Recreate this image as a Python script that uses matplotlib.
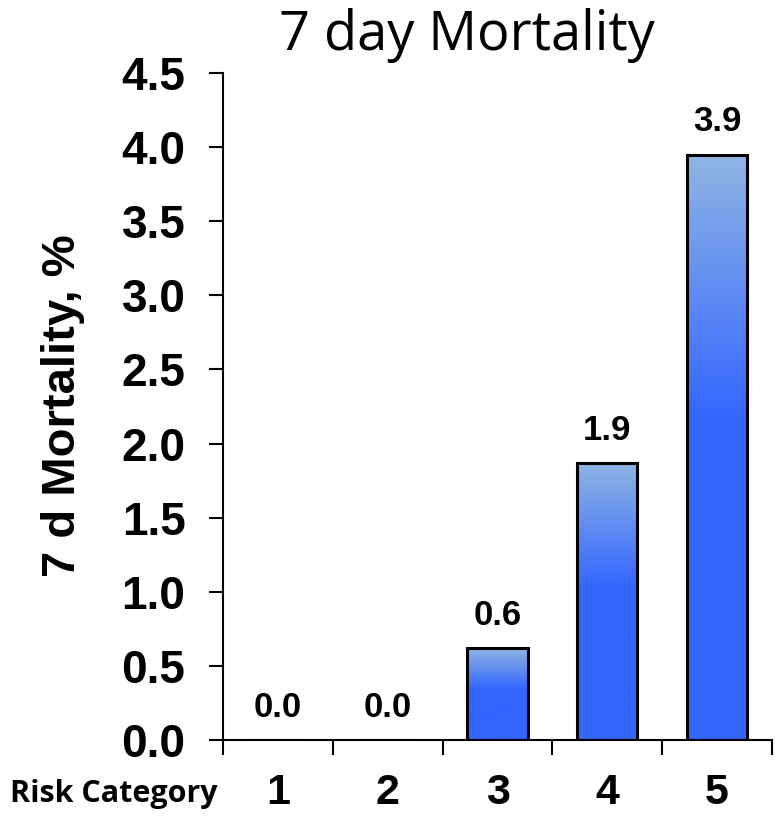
import numpy as np
import matplotlib
matplotlib.use("Agg")
import matplotlib.pyplot as plt
from matplotlib.colors import LinearSegmentedColormap

categories = ["1", "2", "3", "4", "5"]
mortality = [0.0, 0.0, 0.62, 1.87, 3.95]
value_labels = ["0.0", "0.0", "0.6", "1.9", "3.9"]
yticks = [0.0, 0.5, 1.0, 1.5, 2.0, 2.5, 3.0, 3.5, 4.0, 4.5]

fig = plt.figure(figsize=(7.75, 8.17), dpi=100)
ax = fig.add_axes([0.2877, 0.0942, 0.7084, 0.8164])

grad = LinearSegmentedColormap.from_list(
    "bar", [(0, "#3366ff"), (0.55, "#3366ff"), (1, "#90b4e4")])
ramp = np.linspace(0, 1, 256).reshape(-1, 1)

x = np.arange(1, len(categories) + 1)
w = 0.55
bars = ax.bar(x, mortality, width=w, facecolor="none", edgecolor="black",
              linewidth=2.2, zorder=3)
for b, h in zip(bars, mortality):
    if h <= 0:
        continue
    im = ax.imshow(ramp, cmap=grad, origin="lower", aspect="auto",
                   extent=(b.get_x(), b.get_x() + w, 0, h), zorder=2)
    im.set_clip_path(b)

for xi, h, lab in zip(x, mortality, value_labels):
    ax.text(xi, h + 0.11, lab, ha="center", va="bottom", fontsize=25,
            fontweight="bold", family="Liberation Sans")

ax.set_xlim(0.5, 5.5)
ax.set_ylim(0, 4.5)
ax.set_yticks(yticks)
ax.set_yticklabels([f"{v:.1f}" for v in yticks], fontsize=33,
                   fontweight="bold", family="Liberation Sans")
ax.set_xticks(np.arange(0.5, 6, 1.0))
ax.set_xticklabels([])
ax.set_xticks(x, minor=True)
ax.set_xticklabels(categories, minor=True, fontsize=31, fontweight="bold",
                   family="Liberation Sans")
ax.tick_params(axis="x", which="major", direction="out", length=11, width=1.5)
ax.tick_params(axis="x", which="minor", length=0, pad=24)
ax.tick_params(axis="y", direction="out", length=10, width=1.5, pad=17)

for s in ["top", "right"]:
    ax.spines[s].set_visible(False)
for s in ["left", "bottom"]:
    ax.spines[s].set_linewidth(1.5)

fig.text(63 / 775, 1 - 406 / 817, "7 d Mortality, %", fontsize=34,
         fontweight="bold", family="Liberation Sans", rotation=90,
         ha="center", va="center")
fig.text(0.602, 1 - 50 / 817, "7 day Mortality", fontsize=39,
         family="Open Sans", ha="center", va="baseline")
fig.text(0.1465, 1 - 802 / 817, "Risk Category", fontsize=22,
         fontweight="bold", family="Open Sans", ha="center", va="baseline")

fig.savefig("out.png", dpi=100)
